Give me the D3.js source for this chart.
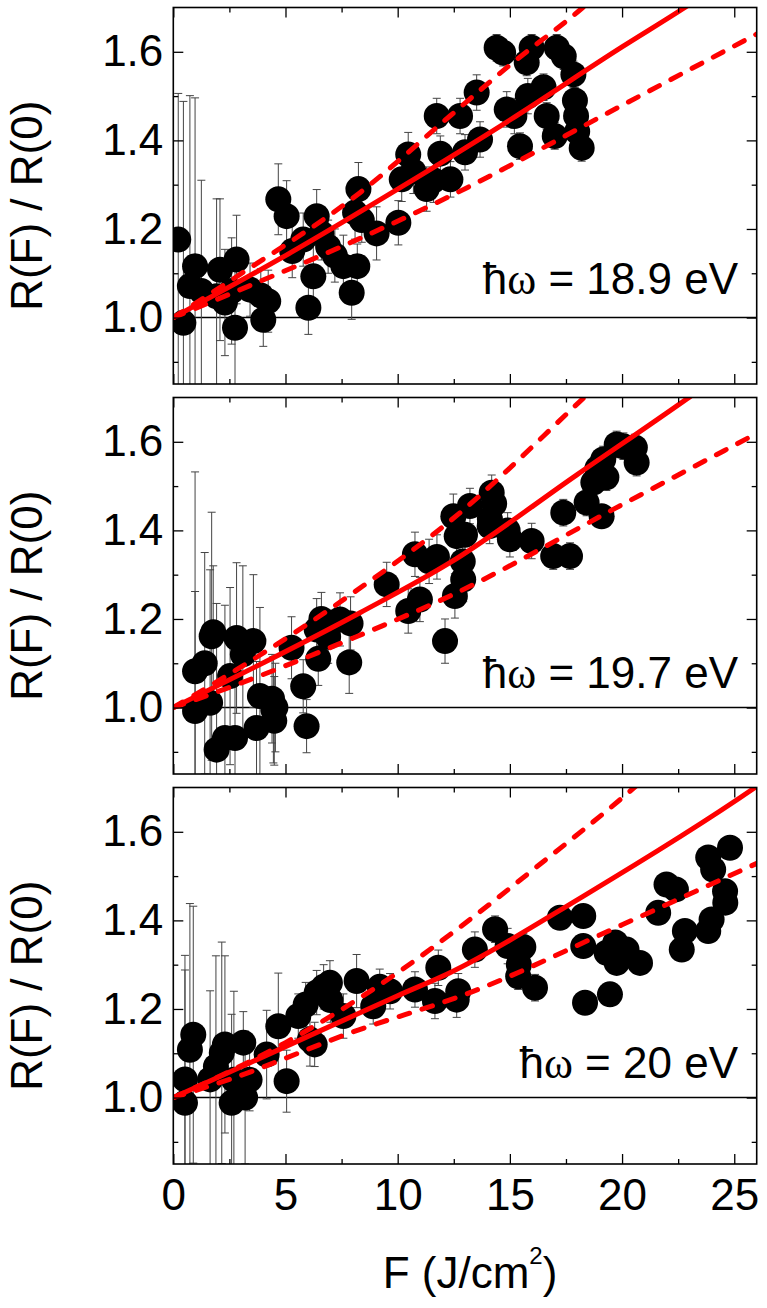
<!DOCTYPE html>
<html><head><meta charset="utf-8">
<script src="https://cdn.jsdelivr.net/npm/d3@7"></script>
<style>body{margin:0;background:#fff}svg{display:block}</style>
</head><body>
<script>
// ---------- DATA ----------
const xTicks = [0, 5, 10, 15, 20, 25];
const xMinor = [2.5, 7.5, 12.5, 17.5, 22.5];
const yTicks = [1.0, 1.2, 1.4, 1.6];
const yMinor = [0.9, 1.1, 1.3, 1.5];
const yTickLabels = ["1.0", "1.2", "1.4", "1.6"];
const panelLabels = ["18.9 eV", "19.7 eV", "20 eV"];

// Panel 1 (ħω = 18.9 eV)
const F1 = [0.22,0.45,0.74,0.97,1.25,1.93,2.08,2.3,2.75,2.82,2.6,3.42,3.9,4.01,4.23,4.68,5.05,5.3,5.79,6.02,6.24,6.39,6.6,6.9,7.2,7.58,7.95,8.2,8.1,8.25,8.4,9.06,10.03,10.18,10.47,10.7,11.29,11.6,11.74,11.9,12.35,12.78,13.0,13.52,13.67,14.41,14.7,14.86,15.2,15.45,15.75,15.8,15.97,16.5,16.64,17.0,17.09,17.4,17.83,17.9,17.95,18.0,18.2];
const R1 = [1.176,0.988,1.071,1.116,1.06,1.048,1.108,1.034,0.977,1.131,1.06,1.063,1.05,0.995,1.037,1.267,1.229,1.15,1.176,1.022,1.093,1.229,1.19,1.16,1.14,1.116,1.056,1.116,1.237,1.29,1.22,1.19,1.214,1.312,1.368,1.33,1.29,1.31,1.455,1.37,1.312,1.455,1.373,1.508,1.402,1.609,1.598,1.47,1.455,1.387,1.576,1.5,1.609,1.52,1.455,1.41,1.609,1.59,1.549,1.49,1.455,1.42,1.383];
const E1 = [0.33,0.5,0.43,0.38,0.25,0.22,0.16,0.12,0.15,0.1,0.12,0.06,0.06,0.06,0.07,0.08,0.08,0.06,0.06,0.06,0.07,0.06,0.06,0.06,0.06,0.07,0.06,0.05,0.06,0.06,0.05,0.06,0.05,0.05,0.05,0.05,0.05,0.05,0.04,0.04,0.04,0.04,0.04,0.04,0.04,0.03,0.03,0.04,0.04,0.03,0.03,0.04,0.03,0.03,0.03,0.03,0.03,0.03,0.03,0.03,0.03,0.03,0.03];
const fitF1 = [0, 5, 10, 15, 20, 22.8, 26];
const fit1 = [1.0, 1.14, 1.29, 1.446, 1.611, 1.70, 1.81];
const upF1 = [0, 2.84, 8.32, 12.33, 15, 18.25, 20];
const up1 = [1.0, 1.093, 1.282, 1.455, 1.57, 1.70, 1.78];
const loF1 = [0, 2.84, 8.02, 12.33, 20, 26];
const lo1 = [1.0, 1.06, 1.172, 1.274, 1.479, 1.64];

// Panel 2 (ħω = 19.7 eV)
const F2 = [0.97,0.97,1.4,1.64,1.71,1.78,1.93,2.3,2.53,2.75,2.82,3.1,3.57,3.71,3.86,4.4,4.46,4.5,4.55,5.27,5.79,5.94,6.39,6.46,6.6,6.9,7.43,7.9,7.84,9.51,10.47,10.77,10.99,11.4,11.75,12.11,12.55,12.48,12.63,12.92,12.9,13.0,13.22,14.1,14.11,14.19,14.3,14.9,15.0,15.97,16.93,17.38,17.68,18.42,18.72,18.9,19.09,19.16,19.3,19.76,20.06,20.57,20.65];
const R2 = [0.992,1.082,1.10,1.011,1.161,1.17,0.905,0.931,1.071,0.931,1.157,1.12,1.15,0.954,1.026,1.02,0.995,0.97,1.0,1.135,1.048,0.958,1.176,1.11,1.2,1.16,1.199,1.19,1.102,1.278,1.218,1.346,1.244,1.33,1.34,1.15,1.252,1.432,1.387,1.289,1.33,1.39,1.455,1.41,1.425,1.485,1.46,1.40,1.38,1.376,1.342,1.44,1.342,1.463,1.508,1.54,1.432,1.56,1.52,1.594,1.59,1.587,1.553];
const E2 = [0.27,0.45,0.25,0.3,0.28,0.15,0.33,0.3,0.2,0.2,0.17,0.2,0.15,0.15,0.2,0.1,0.12,0.1,0.1,0.07,0.06,0.06,0.07,0.06,0.06,0.06,0.06,0.06,0.07,0.05,0.05,0.05,0.05,0.05,0.05,0.05,0.05,0.05,0.05,0.05,0.05,0.05,0.04,0.04,0.04,0.04,0.04,0.04,0.04,0.04,0.03,0.03,0.03,0.03,0.03,0.03,0.02,0.03,0.03,0.03,0.03,0.03,0.03];
const fitF2 = [0, 8.32, 12.33, 18, 23.03, 26];
const fit2 = [1.0, 1.214, 1.327, 1.526, 1.702, 1.81];
const upF2 = [0, 2.84, 8.02, 12.33, 18.35, 20];
const up2 = [1.0, 1.086, 1.259, 1.421, 1.702, 1.78];
const loF2 = [0, 2.84, 8.02, 12.33, 20, 25.93];
const lo2 = [1.0, 1.052, 1.157, 1.252, 1.458, 1.617];

// Panel 3 (ħω = 20 eV)
const F3 = [0.52,0.52,0.74,0.89,1.64,1.9,2.16,2.3,2.6,2.7,3.12,3.2,3.4,4.16,4.68,5.05,5.57,5.9,6.09,6.3,6.39,6.7,6.98,7.0,7.58,8.17,8.91,9.2,9.66,10.77,11.66,11.81,12.63,12.7,13.44,14.34,14.9,15.37,15.4,15.6,16.12,17.23,18.27,18.27,18.35,19.31,19.46,19.7,19.76,20.2,20.8,21.61,21.98,22.4,22.66,22.8,23.84,23.99,23.84,24.06,24.59,24.6,24.81];
const R3 = [0.988,1.041,1.108,1.142,1.041,1.07,1.101,1.12,0.988,1.04,1.124,1.0,1.04,1.097,1.161,1.037,1.184,1.21,1.131,1.12,1.237,1.25,1.259,1.22,1.184,1.263,1.206,1.25,1.24,1.244,1.218,1.293,1.221,1.24,1.334,1.38,1.342,1.274,1.30,1.34,1.248,1.406,1.41,1.342,1.214,1.327,1.233,1.35,1.304,1.334,1.304,1.417,1.481,1.47,1.334,1.376,1.376,1.402,1.542,1.515,1.466,1.44,1.564];
const E3 = [0.3,0.28,0.33,0.29,0.2,0.25,0.25,0.2,0.2,0.2,0.07,0.15,0.07,0.1,0.12,0.07,0.05,0.05,0.06,0.05,0.05,0.05,0.05,0.05,0.05,0.06,0.04,0.04,0.04,0.04,0.04,0.04,0.04,0.04,0.04,0.03,0.04,0.03,0.03,0.03,0.03,0.02,0.02,0.02,0.02,0.02,0.02,0.02,0.02,0.02,0.02,0.02,0.01,0.01,0.01,0.01,0.01,0.01,0.01,0.01,0.01,0.01,0.01];
const fitF3 = [0, 5, 10, 12.33, 18.28, 25.93, 26.5];
const fit3 = [1.0, 1.115, 1.23, 1.282, 1.455, 1.70, 1.72];
const upF3 = [0, 5, 10, 13.22, 16.05, 20.2, 21];
const up3 = [1.0, 1.124, 1.282, 1.402, 1.515, 1.685, 1.72];
const loF3 = [0, 2.67, 8, 13.22, 20, 25.93, 26.5];
const lo3 = [1.0, 1.044, 1.148, 1.237, 1.39, 1.527, 1.54];

// ---------- DRAW ----------
const W = 767, H = 1308;
const left = 173.3, right = 756.7, pH = 376.5;
const tops = [7.5, 397.5, 787.5];
const FONT = "'Liberation Sans', Arial, sans-serif";

const panels = [
  {F:F1,R:R1,E:E1,fit:[fitF1,fit1],up:[upF1,up1],lo:[loF1,lo1],labDy:286},
  {F:F2,R:R2,E:E2,fit:[fitF2,fit2],up:[upF2,up2],lo:[loF2,lo2],labDy:290},
  {F:F3,R:R3,E:E3,fit:[fitF3,fit3],up:[upF3,up3],lo:[loF3,lo3],labDy:290}
];

const svg = d3.select("body").append("svg").attr("width", W).attr("height", H)
  .style("font-family", FONT);

const x = d3.scaleLinear().domain([0, 26]).range([left, right]);

panels.forEach((p, i) => {
  const top = tops[i], bottom = top + pH;
  const y = d3.scaleLinear().domain([0.85, 1.70]).range([bottom, top]);
  const g = svg.append("g");
  const cid = "clip" + i;
  svg.append("clipPath").attr("id", cid).append("rect")
    .attr("x", left).attr("y", top).attr("width", right - left).attr("height", pH);
  const plot = g.append("g").attr("clip-path", `url(#${cid})`);

  // reference line at 1.0
  plot.append("line").attr("x1", left).attr("x2", right)
    .attr("y1", y(1.0)).attr("y2", y(1.0)).attr("stroke", "#000").attr("stroke-width", 1.5);

  const pts = p.F.map((f, k) => ({f, r: p.R[k], e: p.E[k]}));
  // error bars
  const eb = plot.append("g").attr("stroke", "#444").attr("stroke-width", 1);
  pts.forEach(d => {
    eb.append("line").attr("x1", x(d.f)).attr("x2", x(d.f))
      .attr("y1", y(d.r - d.e)).attr("y2", y(d.r + d.e));
    [d.r - d.e, d.r + d.e].forEach(v => {
      eb.append("line").attr("x1", x(d.f) - 4).attr("x2", x(d.f) + 4)
        .attr("y1", y(v)).attr("y2", y(v));
    });
  });
  // markers
  plot.append("g").selectAll("circle").data(pts).join("circle")
    .attr("cx", d => x(d.f)).attr("cy", d => y(d.r)).attr("r", 13).attr("fill", "#000");

  // model curves
  const line = d3.line().x(d => x(d[0])).y(d => y(d[1])).curve(d3.curveMonotoneX);
  const toPts = arr => arr[0].map((f, k) => [f, arr[1][k]]);
  plot.append("path").attr("d", line(toPts(p.fit))).attr("fill", "none")
    .attr("stroke", "#ff0000").attr("stroke-width", 5);
  [p.up, p.lo].forEach(c => {
    plot.append("path").attr("d", line(toPts(c))).attr("fill", "none")
      .attr("stroke", "#ff0000").attr("stroke-width", 5)
      .attr("stroke-dasharray", "11,13").attr("stroke-linecap", "round");
  });

  // axes
  const axB = d3.axisBottom(x).tickValues(xTicks).tickSize(-10).tickPadding(15)
    .tickFormat(i === 2 ? d3.format("d") : () => "");
  const axBm = d3.axisBottom(x).tickValues(xMinor).tickSize(-5).tickFormat(() => "");
  const axT = d3.axisTop(x).tickValues(xTicks).tickSize(-10).tickFormat(() => "");
  const axTm = d3.axisTop(x).tickValues(xMinor).tickSize(-5).tickFormat(() => "");
  const axL = d3.axisLeft(y).tickValues(yTicks).tickSize(-10).tickPadding(10)
    .tickFormat((d, k) => yTickLabels[k]);
  const axLm = d3.axisLeft(y).tickValues(yMinor).tickSize(-5).tickFormat(() => "");
  const axR = d3.axisRight(y).tickValues(yTicks).tickSize(-10).tickFormat(() => "");
  const axRm = d3.axisRight(y).tickValues(yMinor).tickSize(-5).tickFormat(() => "");

  const addAxis = (ax, tx, ty) => {
    const a = g.append("g").attr("transform", `translate(${tx},${ty})`).call(ax);
    a.select(".domain").remove();
    a.selectAll("line").attr("stroke", "#000").attr("stroke-width", 1.3);
    a.selectAll("text").attr("fill", "#000").style("font-size", "44px").style("font-family", FONT);
    return a;
  };
  addAxis(axB, 0, bottom); addAxis(axBm, 0, bottom);
  addAxis(axT, 0, top); addAxis(axTm, 0, top);
  addAxis(axL, left, 0); addAxis(axLm, left, 0);
  addAxis(axR, right, 0); addAxis(axRm, right, 0);

  // frame
  g.append("rect").attr("x", left).attr("y", top).attr("width", right - left).attr("height", pH)
    .attr("fill", "none").attr("stroke", "#000").attr("stroke-width", 1.6);

  // y title
  svg.append("text").attr("transform", `translate(42,${(top + bottom) / 2 + 10}) rotate(-90)`)
    .attr("text-anchor", "middle").style("font-size", "44px").attr("fill", "#000")
    .text("R(F) / R(0)");

  // energy label
  const t = svg.append("text").attr("x", 738).attr("y", top + p.labDy)
    .attr("text-anchor", "end").style("font-size", "44px").attr("fill", "#000");
  t.append("tspan").text("\u0127");
  t.append("tspan").style("font-family", "'Liberation Serif', 'Times New Roman', serif").text("\u03C9");
  t.append("tspan").text(" = " + panelLabels[i]);
});

// x title
const xt = svg.append("text").attr("x", (left + right) / 2 + 5).attr("y", 1288)
  .attr("text-anchor", "middle").style("font-size", "44px").attr("fill", "#000");
xt.append("tspan").text("F (J/cm");
xt.append("tspan").attr("dy", -24).style("font-size", "24px").text("2");
xt.append("tspan").attr("dy", 24).text(")");
</script>
</body></html>
